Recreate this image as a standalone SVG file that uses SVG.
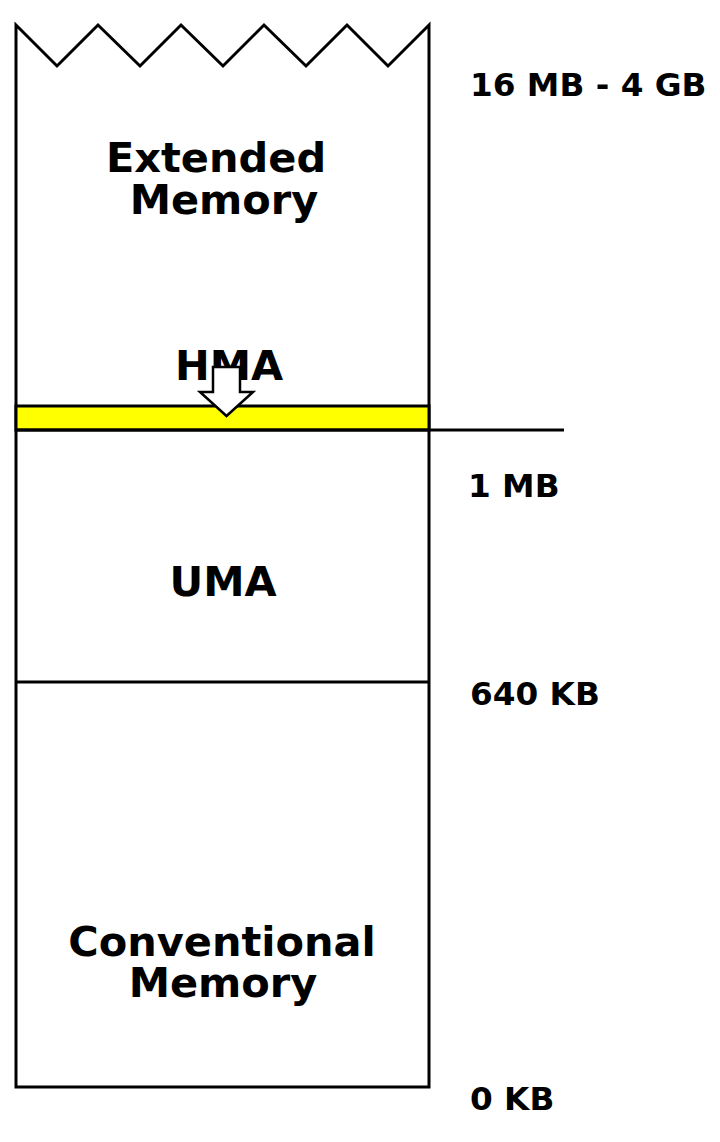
<svg xmlns="http://www.w3.org/2000/svg" width="720" height="1142" viewBox="0 0 720 1142">
<style>
.ln{fill:none;stroke:#000;stroke-width:3;stroke-linejoin:miter}
.big{font-family:"DejaVu Sans",sans-serif;font-weight:bold;font-size:41.5px;text-anchor:middle;fill:#000}
.lbl{font-family:"DejaVu Sans",sans-serif;font-weight:bold;font-size:32.7px;fill:#000}
</style>
<rect width="720" height="1142" fill="#fff"/>
<g id="memory-column">
<path class="ln" d="M16,25 L57,66 L98,25 L140,66 L181,25 L223,66 L264,25 L306,66 L347,25 L388,66 L429,25 L429,1087 L16,1087 Z"/>
</g>
<g id="extended">
<text class="big" x="216" y="172">Extended</text>
<text class="big" x="224" y="214">Memory</text>
</g>
<g id="hma">
<rect x="16" y="406" width="413" height="24" fill="#ffff00" stroke="#000" stroke-width="3"/>
<text class="big" x="229" y="380">HMA</text>
</g>
<g id="uma">
<text class="big" x="223" y="596">UMA</text>
</g>
<g id="conventional">
<text class="big" x="222" y="956">Conventional</text>
<text class="big" x="223" y="997">Memory</text>
</g>
<g id="connectors">
<line class="ln" x1="16" y1="430" x2="564" y2="430"/>
<line class="ln" x1="16" y1="682" x2="429" y2="682"/>
<path d="M213,367 L240,367 L240,392 L253,392 L226.5,416 L200,392 L213,392 Z" fill="#fff" stroke="#000" stroke-width="2.5" stroke-linejoin="miter"/>
</g>
<g id="labels">
<text class="lbl" x="470" y="96">16 MB - 4 GB</text>
<text class="lbl" x="468" y="497">1 MB</text>
<text class="lbl" x="470" y="705">640 KB</text>
<text class="lbl" x="470" y="1110">0 KB</text>
</g>
</svg>
